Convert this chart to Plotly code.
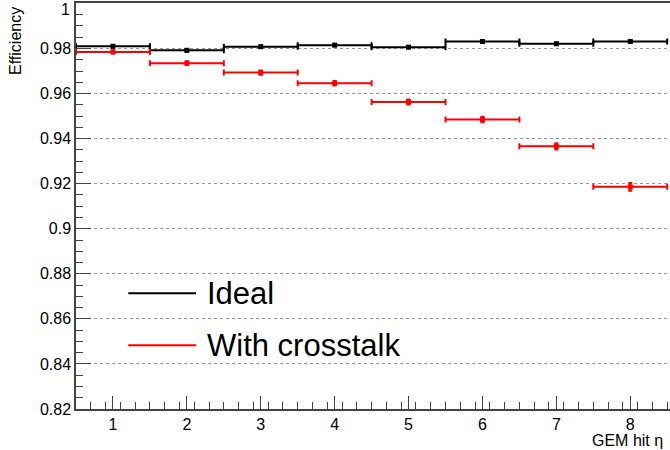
import plotly.graph_objects as go

eta_bins = [1, 2, 3, 4, 5, 6, 7, 8]
bin_half_width = [0.5] * 8
eff_ideal = [0.9810, 0.9792, 0.9808, 0.9815, 0.9806, 0.9831, 0.9821, 0.9831]
err_ideal = [0.0005, 0.0005, 0.0005, 0.0005, 0.0005, 0.0005, 0.0005, 0.0005]
eff_xtalk = [0.9785, 0.9735, 0.9693, 0.9646, 0.9563, 0.9485, 0.9366, 0.9186]
err_xtalk = [0.0007, 0.0008, 0.0009, 0.0010, 0.0011, 0.0012, 0.0014, 0.0017]
series_names = ["Ideal", "With crosstalk"]
series_colors = ["#000000", "#ff0000"]
y_ticks = [0.82, 0.84, 0.86, 0.88, 0.9, 0.92, 0.94, 0.96, 0.98, 1]
y_tick_text = ["0.82", "0.84", "0.86", "0.88", "0.9", "0.92", "0.94", "0.96", "0.98", "1"]

FONT = "Liberation Sans, Arial, Helvetica, sans-serif"

fig = go.Figure()
for name, col, ys, es in [
    (series_names[0], series_colors[0], eff_ideal, err_ideal),
    (series_names[1], series_colors[1], eff_xtalk, err_xtalk),
]:
    fig.add_trace(go.Scatter(
        x=eta_bins, y=ys, name=name, mode="markers", showlegend=False,
        marker=dict(symbol="square", size=5, color=col),
        error_x=dict(type="data", array=bin_half_width, color=col, thickness=2, width=3),
        error_y=dict(type="data", array=es, color=col, thickness=2, width=2),
    ))

# custom legend (ROOT-style, long line samples)
leg_y = [0.285, 0.157]
for i, (name, col) in enumerate(zip(series_names, series_colors)):
    fig.add_shape(type="line", xref="paper", yref="paper",
                  x0=0.088, x1=0.202, y0=leg_y[i], y1=leg_y[i],
                  line=dict(color=col, width=2))
    fig.add_annotation(xref="paper", yref="paper", x=0.218, y=leg_y[i],
                       xanchor="left", yanchor="middle", showarrow=False,
                       text=name, font=dict(family=FONT, size=31, color="black"))

fig.add_annotation(xref="paper", yref="paper", x=0, xshift=-61, y=1, yshift=-2,
                   xanchor="center", yanchor="top", textangle=-90, showarrow=False,
                   text="Efficiency", font=dict(family=FONT, size=16, color="black"))
fig.add_annotation(xref="paper", yref="paper", x=0.866, y=0, yshift=-31,
                   xanchor="left", yanchor="middle", showarrow=False,
                   text="GEM hit η", font=dict(family=FONT, size=16, color="black"))

# top tick label placed just below its tick so it stays inside the canvas
tick_text_shown = list(y_tick_text)
tick_text_shown[-1] = ""
fig.add_annotation(xref="paper", yref="y", x=0, xshift=-4, y=y_ticks[-1], yshift=4,
                   xanchor="right", yanchor="top", showarrow=False,
                   text=y_tick_text[-1], font=dict(family=FONT, size=16, color="black"))

fig.update_layout(
    width=670, height=450,
    margin=dict(l=76, r=0, t=3, b=41),
    paper_bgcolor="white", plot_bgcolor="white",
    font=dict(family=FONT, size=16, color="black"),
    showlegend=False,
)
fig.update_xaxes(
    range=[0.5, 8.538], showgrid=False, zeroline=False, automargin=False,
    showline=True, linecolor="#444", linewidth=1.5, mirror=True,
    ticks="inside", ticklen=13, tickwidth=1.2, tickcolor="#444",
    tickmode="array", tickvals=eta_bins, ticktext=[str(v) for v in eta_bins],
    tickfont=dict(size=16), ticklabeloverflow="allow",
    minor=dict(ticks="inside", ticklen=7, tickwidth=1.2, tickcolor="#444", dtick=0.2, tick0=0.5, showgrid=False),
)
fig.update_yaxes(
    range=[0.82, 1.0002], zeroline=False, automargin=False,
    showline=True, linecolor="#444", linewidth=1.5,
    showgrid=True, gridcolor="#999", griddash="dot", gridwidth=1,
    ticks="inside", ticklen=15, tickwidth=1.2, tickcolor="#444",
    tickmode="array", tickvals=y_ticks, ticktext=tick_text_shown,
    tickfont=dict(size=16), ticklabeloverflow="allow",
    minor=dict(ticks="inside", ticklen=7, tickwidth=1.2, tickcolor="#444", dtick=0.005, tick0=0.82, showgrid=False),
)

fig.write_html("out.html", config={"displayModeBar": False},
               post_script="document.body.style.margin='0';document.body.style.overflow='hidden';")
